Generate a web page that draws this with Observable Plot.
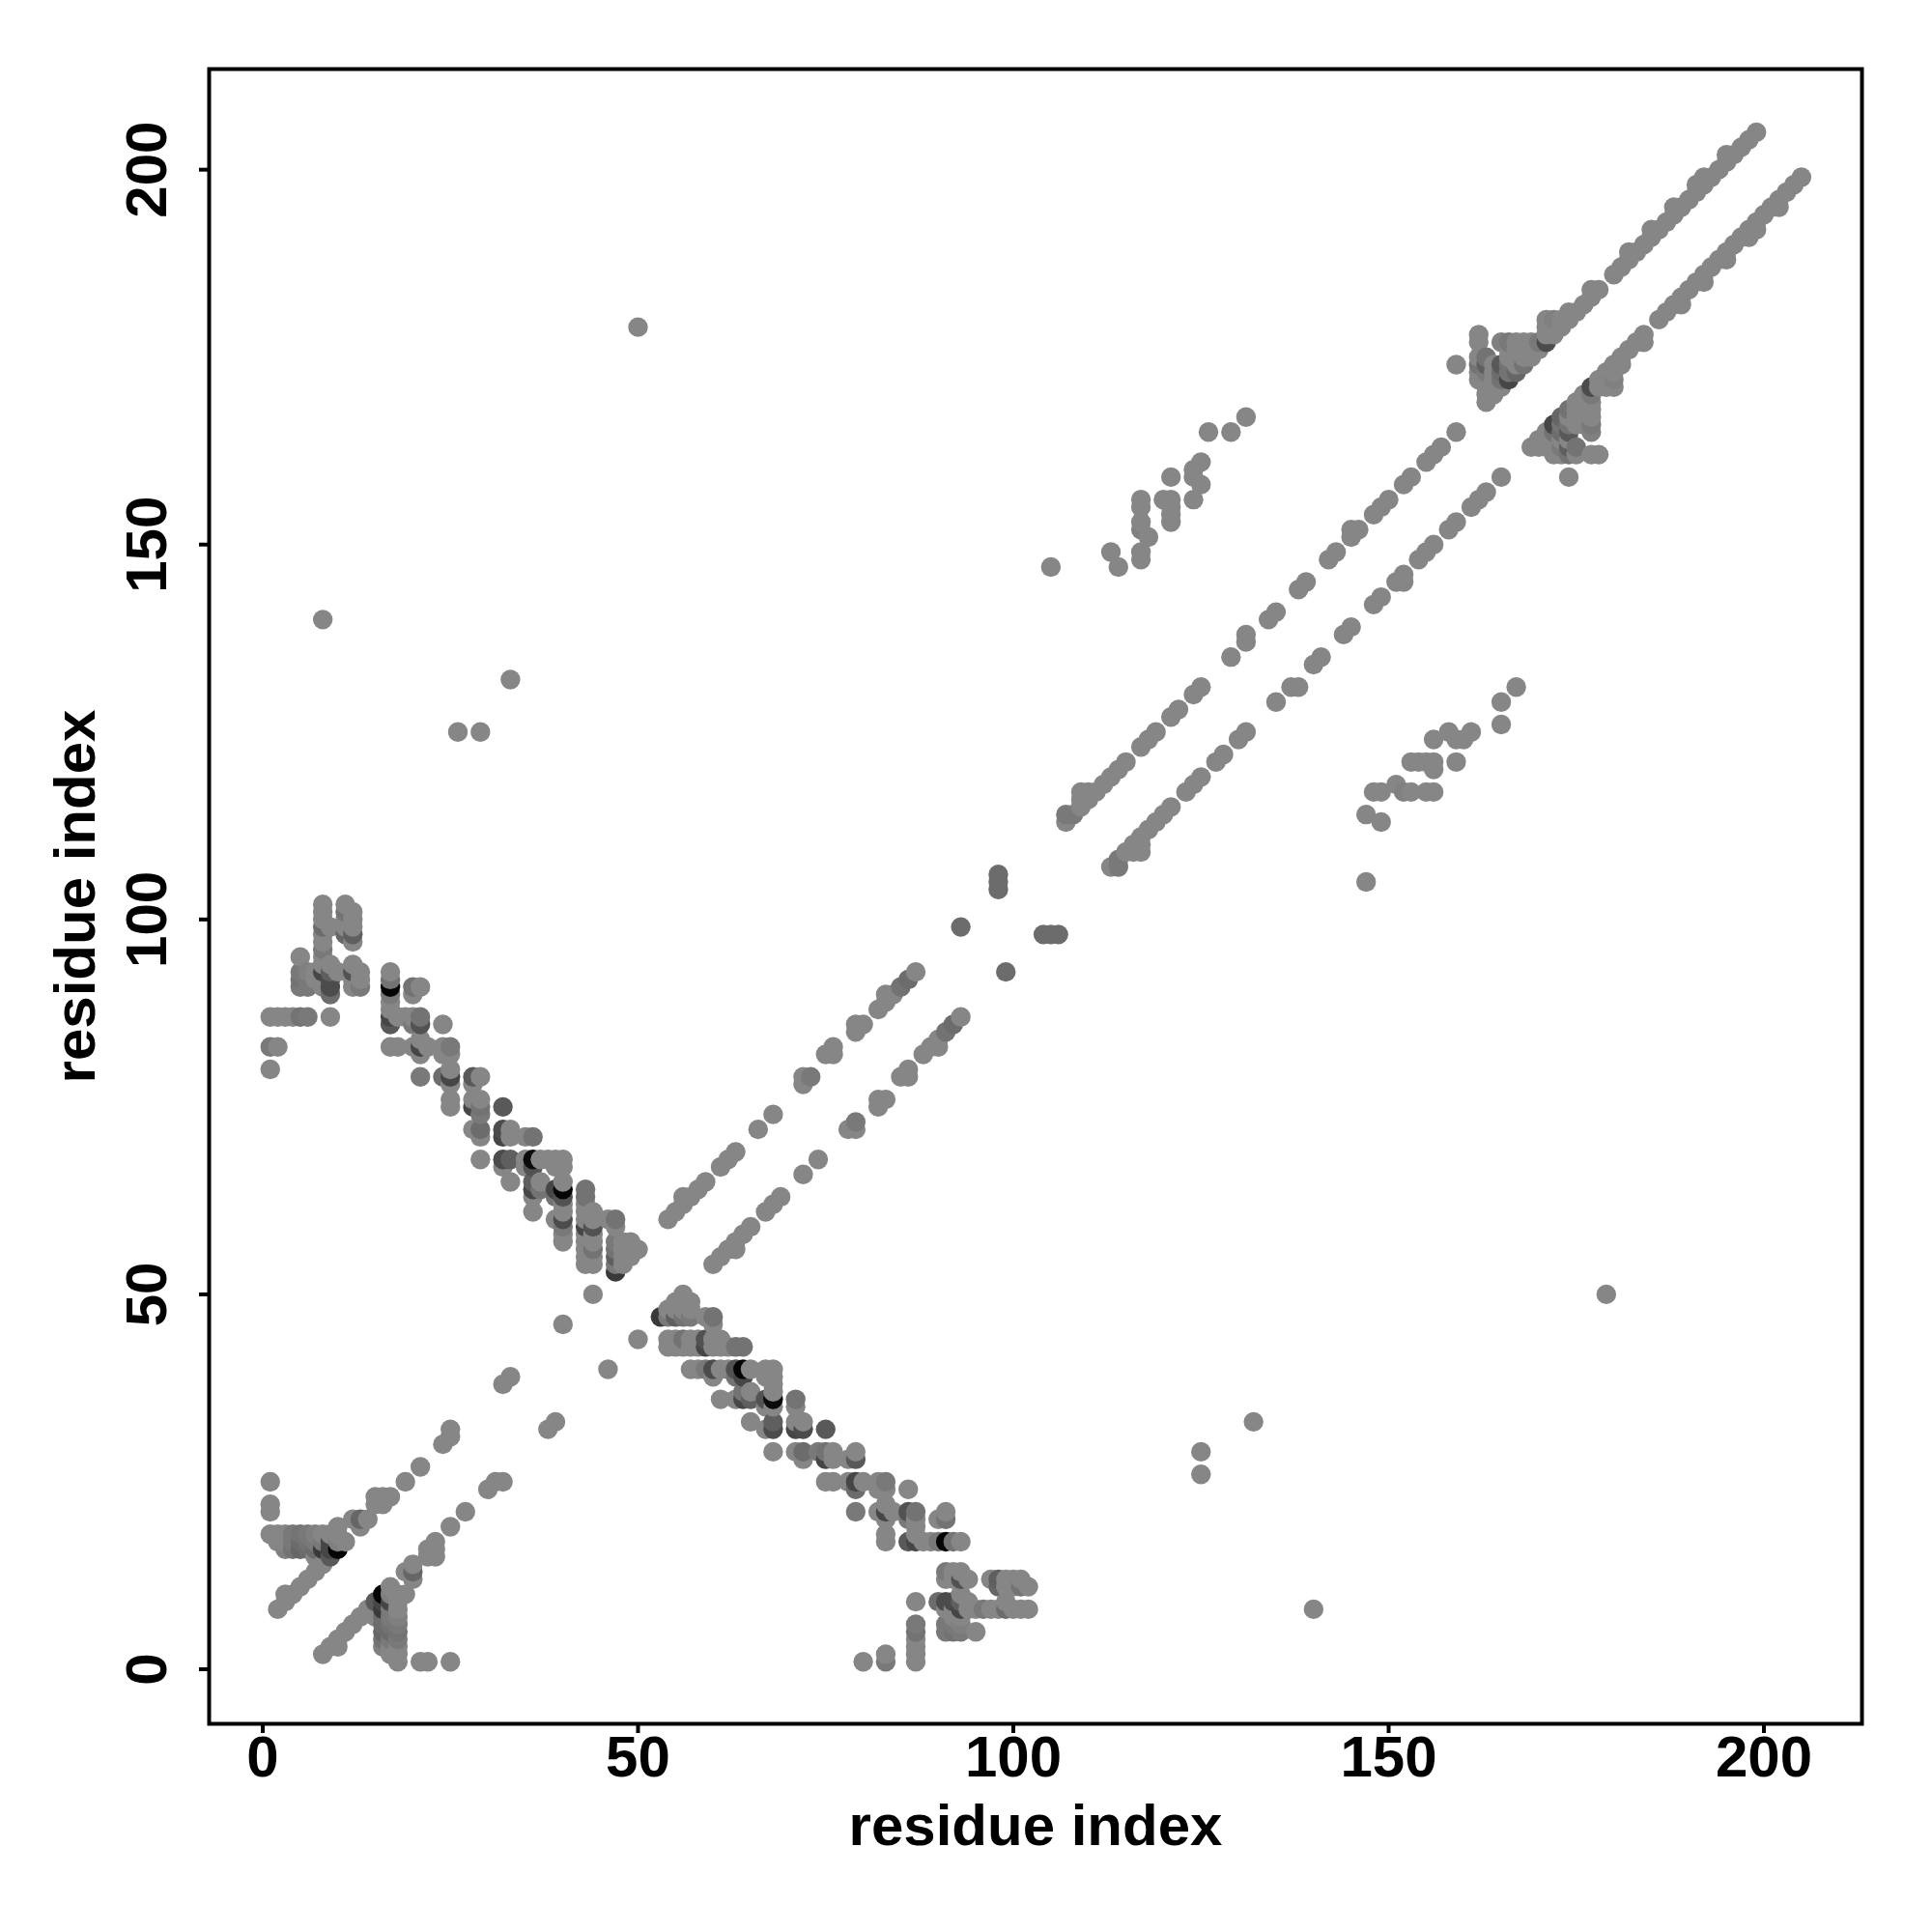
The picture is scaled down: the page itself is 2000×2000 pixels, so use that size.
<!DOCTYPE html>
<html><head><meta charset="utf-8">
<style>html,body{margin:0;padding:0;background:#fff}svg{display:block}</style>
<script src="https://cdn.jsdelivr.net/npm/d3@7"></script>
<script src="https://cdn.jsdelivr.net/npm/@observablehq/plot@0.6"></script>
</head><body><div id="chart"></div>
<script>
// Contacts as [residue a, residue b, strength]; strength omitted = 0. The map is symmetric, only a > b is listed.
const tickValues = [0, 50, 100, 150, 200];
const axisTitle = "residue index";
const earlyHelix = [[8,2],[9,3],[10,3],[10,4],[11,5],[12,6],[13,7],[14,8],[15,7],[15,9,3.5],
 [16,3,.5],[16,4,1.5],[16,5,2.5],[16,6,2],[16,7,2],[16,8,6],[16,9,5],[16,10,10],
 [17,2],[17,3],[17,4,1],[17,5,2],[17,6,1.5],[17,7,1],[17,8,1],[17,9,5],[17,10,.5],[17,11],
 [18,1],[18,2],[18,3],[18,4,1],[18,5,1.5],[18,6,1],[18,7,.5],[18,8],[18,9],[18,10],[19,10],
 [19,13],[20,12],[20,13,2.5],[20,14],[21,1],[22,1],[25,1],[22,15],[22,16],[23,15],[23,16],[23,17],
 [25,19],[27,21],[30,24],[31,25],[32,25],[38,32],[39,33],[46,40],[50,44]];
const crossUpper = [[56,50],[55,49],[56,49],[57,49],[54,48],[55,48],[56,48],[57,48],
 [53,47,6],[54,47,1],[55,47,3],[56,47,1.5],[57,47,1],[59,47],[60,47,1.5],[60,46],
 [54,44],[55,44],[56,44,1.5],[57,44],[58,44],[59,44,4],[60,44],[61,44],
 [54,43],[55,43],[56,43],[57,43],[58,43],[59,43,5],[60,43],[61,43],[62,43],[63,43,1.5],[64,43,1.5],
 [57,40],[58,40],[59,40,1],[60,40,4.5],[61,40],[62,40],[63,40,4],[64,40,10],[65,40],[67,40],[68,40],
 [60,39],[63,39,1.5],[64,39,5],[67,39],[68,39],[68,38],[64,37,1.5],[65,37],[68,37],
 [61,36],[63,36],[64,36,5],[65,36,3],[67,36,4],[68,36,9.5],[71,36,1.5],[67,35],[68,35],[71,35],
 [65,33],[68,33,3],[71,33],[72,33],[67,32],[68,32,4.5],[71,32,5],[72,32,4.5],[75,32,3.5]];
const crossLower = [[68,29],[71,29],[72,29,2],[74,29,1],[75,29,1.5],[76,29],[79,29],[72,28],[75,28,5],[76,28],[78,28],[79,28,3.5],
 [75,25],[76,25],[78,25],[79,25,5],[80,25],[82,25],[83,25,1],[79,24,2],[82,24],[83,24],[86,24],
 [83,22],[79,21,1],[82,21],[83,21,5],[84,21],[86,21,4],[87,21,1.5],[83,20],[86,20,1],[87,20],[87,19],
 [90,20],[91,21],[91,20,1.5],[83,18],[87,18],[83,17],[86,17,3.5],[87,17,5],[88,17],[89,17],[90,17,1],[91,17,10],[92,17,1.5],[93,17],
 [91,13,1],[92,13],[93,13],[91,12],[92,12],[93,12,4],[94,12],
 [97,12],[98,12,3],[99,12],[100,12],[101,12],[98,11,2.5],[99,11],[100,11],[101,11,1.5],[102,11],
 [93,10],[87,9],[90,9,2],[91,9,4.5],[92,9,4.5],[93,9,3],[94,9],[99,9],
 [91,8],[92,8],[93,8,5],[94,8],[95,8],[96,8,1],[97,8],[98,8],[99,8,2],[100,8],[101,8],[102,8],
 [92,7],[93,7],[91,6,1],[92,6,1],[93,6,.5],[91,5,1],[92,5,1.5],[93,5,1],[95,5],
 [87,6,1],[87,5,1.5],[87,4],[87,3],[87,2],[87,1],[83,2],[83,1,1],[80,1]];
const middleDiagonal = [[60,54],[61,55],[62,56],[63,56],[63,57],[64,58],[65,59],[67,61],[68,62],[69,63],[72,66],[74,68],
 [78,72],[79,72],[79,73,1],[82,75],[82,76],[83,76],[85,79],[86,79],[86,80],[88,82],[89,83],[90,83],[90,84],[91,85,1.5],[92,86,2],[93,87],
 [99,93,2],[104,98,2],[105,98,2],[106,98,2],
 [113,107],[114,107,1],[114,108,1],[115,109],[116,109],[117,109],[116,110],[117,110],[117,111],[118,112],[119,113],[120,114],[121,115],
 [123,117],[124,118],[125,119],[127,121],[128,122],[130,124],[131,125],[135,129],[137,131],[138,131],[140,134],[141,135],
 [144,138],[145,139],[148,142],[149,143],[151,145],[152,145],[152,146],[154,148],[155,149],[156,150],[158,152],[159,153],
 [161,155],[162,156],[163,157],[165,159]];
const triangle = [[172,162],[173,162],[174,162,1.5],[175,162],[177,162],[178,162],
 [169,163],[170,163],[171,163],[172,163],[173,163,1],[174,163,3],[175,163,1.5],
 [170,164],[171,164],[172,164],[173,164],[174,164],
 [171,165],[172,165,1.5],[173,165,2],[174,165,3.5],[177,165,.5],
 [172,166,5],[173,166,1.5],[174,166,1.5],[175,166],[176,166],[177,166,1],
 [173,167,2.5],[174,167],[175,167],[176,167],[177,167],
 [174,168,1.5],[175,168],[176,168],[177,168],[175,169],[176,169],[177,169],[176,170],[177,170,1],
 [177,171,4.5],[178,171],[179,171],[180,171],[178,172],[179,172],[180,172,.5],[179,173],[180,173],[180,174],[181,174],[181,175]];
const upperDiagonal = [[182,176],[183,177],[184,177],[184,178],[186,180],[187,181],[188,182],[189,182],[189,183],[190,184],[191,185],[192,185],[192,186],
 [193,187],[194,188],[195,188],[195,189],[196,190],[197,191],[198,191],[198,192],[199,192],[199,193],[200,194],[201,195],[202,195],[202,196],[203,197],[204,198],[205,199]];
const sheetContacts = [[147,105],[147,114],[149,113],[148,117],[149,117],[151,118],[152,117,.5],[153,117],[155,117],[156,117],
 [156,120],[153,121],[154,121],[155,121],[156,121],[159,121],[156,124],[159,124],[160,124],[158,125],[161,125],[165,126],[165,129],[167,131]];
const isolated = [[125,26],[125,29],[132,33],[140,8],[179,50],[174,159]];

const halves = [earlyHelix, crossUpper, crossLower, middleDiagonal, triangle, upperDiagonal, sheetContacts, isolated].flat();
const contacts = halves.flatMap(([a, b, s = 0]) => [{x: a, y: b, s}, {x: b, y: a, s}]);
const rows = d3.sort(contacts, d => d.x, d => d.y);

const chart = Plot.plot({
  width: 2000, height: 2000,
  marginLeft: 216, marginRight: 73, marginTop: 71, marginBottom: 216,
  style: {fontFamily: "'Liberation Sans', sans-serif", fontWeight: "bold", fontSize: "60px", background: "#fff", color: "#000"},
  x: {domain: [-7.14, 213.06], label: null},
  y: {domain: [-7.28, 213.42], label: null},
  color: {type: "linear", domain: [0, 10], range: ["#868686", "#050505"]},
  marks: [
    Plot.dot(rows, {x: "x", y: "y", r: 10.2, fill: "s", stroke: null}),
    Plot.frame({stroke: "#000", strokeWidth: 4}),
    Plot.axisX({ticks: tickValues, tickFormat: String, tickSize: 10, tickPadding: 2, strokeWidth: 4, label: axisTitle, labelAnchor: "center", labelArrow: "none", labelOffset: 125, fontSize: 60, fontWeight: "bold"}),
    Plot.axisY({ticks: tickValues, tickFormat: String, tickSize: 10, tickPadding: 35, strokeWidth: 4, tickRotate: -90, textAnchor: "middle", label: axisTitle, labelAnchor: "center", labelArrow: "none", labelOffset: 161, fontSize: 60, fontWeight: "bold"})
  ]
});
document.getElementById("chart").append(chart);
</script></body></html>
